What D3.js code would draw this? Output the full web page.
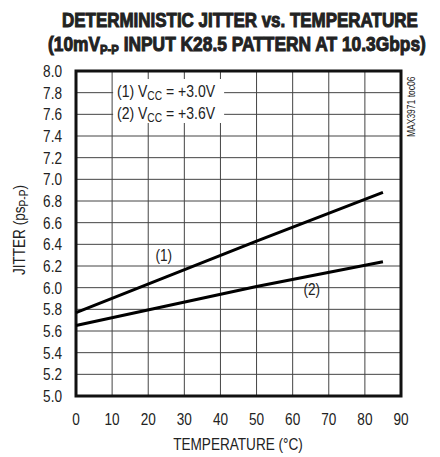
<!DOCTYPE html>
<html>
<head>
<meta charset="utf-8">
<script src="https://cdn.jsdelivr.net/npm/d3@7"></script>
<style>
  body { margin: 0; background: #fff; }
  text { font-family: "Liberation Sans", Arial, sans-serif; fill: #222; }
</style>
</head>
<body>
<div id="chart"></div>
<script>
// chart data
var temps = [0, 25, 50, 85];
var jitter1 = [5.77, 6.10, 6.43, 6.88];   // VCC = +3.0V
var jitter2 = [5.65, 5.83, 6.01, 6.24];   // VCC = +3.6V
var xTicks = [0, 10, 20, 30, 40, 50, 60, 70, 80, 90];
var yTicks = [5.0, 5.2, 5.4, 5.6, 5.8, 6.0, 6.2, 6.4, 6.6, 6.8, 7.0, 7.2, 7.4, 7.6, 7.8, 8.0];
var curveLabels = ["(1)", "(2)"];
var labelTemps = [22, 63];
var labelVals = [6.25, 5.93];

var width = 440, height = 457;
var squeeze = 0.85;   // narrow look of the condensed original font

var svg = d3.select("#chart").append("svg")
    .attr("width", width)
    .attr("height", height);

var x = d3.scaleLinear().domain([0, 90]).range([76, 401]);
var y = d3.scaleLinear().domain([5, 8]).range([396, 71]);

// text placed at (px,py), squeezed horizontally
function condText(parent, px, py, size, anchor, rot) {
    var g = parent.append("g")
        .attr("transform", "translate(" + px + "," + py + ")" + (rot ? " rotate(" + rot + ")" : "") + " scale(" + squeeze + ",1)");
    return g.append("text")
        .attr("text-anchor", anchor || "start")
        .style("font-size", size + "px");
}

// title, scaled to the width of the original
function titleLine(py, cx, target, build) {
    var g = svg.append("g");
    var t = g.append("text")
        .style("font-size", "20px").style("font-weight", "bold")
        .style("stroke", "#222").style("stroke-width", 1);
    build(t);
    var w = t.node().getComputedTextLength();
    var s = target / w;
    g.attr("transform", "translate(" + (cx - target / 2) + "," + py + ") scale(" + s + ",1)");
}
titleLine(27, 240, 356, t => t.text("DETERMINISTIC JITTER vs. TEMPERATURE"));
titleLine(51, 237, 378, function(t) {
    t.append("tspan").text("(10mV");
    t.append("tspan").attr("dy", 3).style("font-size", "13px").text("P-P");
    t.append("tspan").attr("dy", -3).text(" INPUT K28.5 PATTERN AT 10.3Gbps)");
});

// grid
var grid = svg.append("g").attr("stroke", "#444").attr("stroke-width", 1);
grid.selectAll(".vx").data(xTicks.slice(1, -1)).enter().append("line")
    .attr("x1", d => x(d)).attr("x2", d => x(d))
    .attr("y1", y(8)).attr("y2", y(5));
grid.selectAll(".hy").data(yTicks.slice(1, -1)).enter().append("line")
    .attr("x1", x(0)).attr("x2", x(90))
    .attr("y1", d => y(d)).attr("y2", d => y(d));

// legend box covers grid
svg.append("rect")
    .attr("x", x(10) + 1).attr("y", 79)
    .attr("width", 111).attr("height", 44)
    .attr("fill", "#fff");

// frame
svg.append("rect")
    .attr("x", x(0)).attr("y", y(8))
    .attr("width", x(90) - x(0)).attr("height", y(5) - y(8))
    .attr("fill", "none").attr("stroke", "#111").attr("stroke-width", 3);

// axis tick labels
var xl = svg.append("g");
xTicks.forEach(d => condText(xl, x(d), 425, 16, "middle").text(d));
var ylab = svg.append("g");
yTicks.forEach(d => condText(ylab, 62, y(d) + 6, 16, "end").text(d.toFixed(1)));

// axis titles
condText(svg, 238, 450, 16, "middle").text("TEMPERATURE (°C)");

var yt = condText(svg, 25, 230, 16, "middle", -90);
yt.append("tspan").text("JITTER (ps");
yt.append("tspan").attr("dy", 3).style("font-size", "12px").text("P-P");
yt.append("tspan").attr("dy", -3).text(")");

condText(svg, 415, 137, 10, "start", -90).text("MAX3971 toc06");

// data lines
var line = d3.line().x(d => x(d[0])).y(d => y(d[1]));
[jitter1, jitter2].forEach(function(s) {
    svg.append("path")
        .datum(temps.map((t, i) => [t, s[i]]))
        .attr("d", line)
        .attr("fill", "none")
        .attr("stroke", "#000")
        .attr("stroke-width", 3);
});

// curve labels
curveLabels.forEach((d, i) => condText(svg, x(labelTemps[i]), y(labelVals[i]), 16, "start").text(d));

// legend text
var legend = [["(1) V", "CC", " = +3.0V"], ["(2) V", "CC", " = +3.6V"]];
legend.forEach(function(l, i) {
    var t = condText(svg, 117, 97 + i * 21.5, 16.5, "start");
    t.append("tspan").text(l[0]);
    t.append("tspan").attr("dy", 3).style("font-size", "12px").text(l[1]);
    t.append("tspan").attr("dy", -3).text(l[2]);
});
</script>
</body>
</html>
